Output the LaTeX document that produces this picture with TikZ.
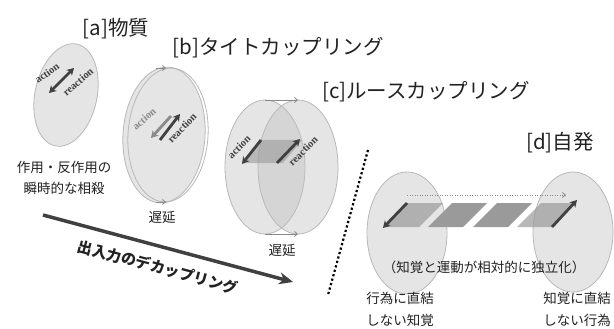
\documentclass[tikz,border=0pt]{standalone}
\usepackage{fontspec}
\newfontfamily\jp{Noto Sans CJK JP}
\newfontfamily\ser{Liberation Serif}
\usetikzlibrary{arrows.meta}
\definecolor{elldraw}{HTML}{B8B8B8}
\definecolor{darkar}{HTML}{404040}
\definecolor{grayar}{HTML}{8A8A8A}
\definecolor{band}{HTML}{9A9A9A}
\definecolor{txt}{HTML}{222222}
\begin{document}
\begin{tikzpicture}[x=1pt,y=-1pt,
  ell/.style={fill=black!25, fill opacity=0.4, draw=elldraw, line width=0.8pt},
  title/.style={font=\jp\fontsize{20.5}{24}\selectfont, inner sep=0pt, text=txt},
  body/.style={font=\jp\fontsize{13.5}{16}\selectfont, inner sep=0pt, text=txt},
  arlbl/.style={font=\ser\bfseries\fontsize{10.5}{12}\selectfont, inner sep=0pt, text=darkar},
  bigar/.style={line width=2.8pt, -{Stealth[length=7pt,width=8pt]}},
  smallhead/.style={draw=grayar, line width=0.8pt, -{Straight Barb[length=3pt,width=5pt]}},
  piece/.style={fill=band, fill opacity=0.9, draw=none}]
\useasboundingbox (0,0) rectangle (614,329);
\fill[white] (0,0) rectangle (614,329);

% ---------- titles ----------
\node[title] (la) at (116,29) {[a]物質};
\node[title] (lb) at (278,48) {[b]タイトカップリング};
\node[title] (lc) at (426,92) {[c]ルースカップリング};
\node[title] (ld) at (560,143) {[d]自発};

% ---------- [a] ----------
\draw[ell, rotate around={-12:(66,95)}] (66,95) ellipse [x radius=31, y radius=52];
\coordinate (a1) at (49,93);
\coordinate (a2) at (74,68);
\draw[darkar, line width=2.8pt, {Stealth[length=7pt,width=8pt]}-{Stealth[length=7pt,width=8pt]}] (a1) -- (a2);
\node[arlbl, rotate=36] (aact) at (47,73) {action};
\node[arlbl, rotate=41] (area) at (78,82) {reaction};
\node[body] (at1) at (64,167) {作用・反作用の};
\node[body] (at2) at (64,188) {瞬時的な相殺};

% ---------- [b] ----------
\draw[ell, rotate around={-4:(164,135)}] (164,135) ellipse [x radius=41, y radius=68];
\draw[draw=elldraw, line width=0.8pt, rotate around={-4:(168,135)}] (168,135) ellipse [x radius=40, y radius=67];
\coordinate (bt1) at (156,68);
\coordinate (bt2) at (166,68);
\coordinate (bb1) at (156,202);
\coordinate (bb2) at (166,202);
\draw[smallhead] (bt1) -- (bt2);
\draw[smallhead] (bb1) -- (bb2);
\coordinate (bg1) at (171,116);
\coordinate (bg2) at (151,138);
\coordinate (bd1) at (160,140);
\coordinate (bd2) at (180,114);
\draw[grayar, bigar] (bg1) -- (bg2);
\draw[darkar, bigar] (bd1) -- (bd2);
\node[arlbl, rotate=42, text=grayar] (bact) at (144,119) {action};
\node[arlbl, rotate=46] (brea) at (182,128) {reaction};
\node[body] (bdl) at (162,217) {遅延};

% ---------- [c] ----------
\draw[ell] (265,167) ellipse [x radius=40, y radius=67];
\draw[ell] (298,167) ellipse [x radius=40, y radius=67];
\coordinate (ct1) at (265,100);
\coordinate (ct2) at (298,100);
\coordinate (cb1) at (265,234);
\coordinate (cb2) at (298,234);
\draw[smallhead] (ct1) -- (ct2);
\draw[smallhead] (cb1) -- (cb2);
\fill[band, fill opacity=0.6] (260,140) -- (302,140) -- (283,163) -- (242,163) -- cycle;
\coordinate (ca1) at (261,140);
\coordinate (ca2) at (242,164);
\coordinate (cr1) at (277,163);
\coordinate (cr2) at (300,139);
\draw[darkar, bigar] (ca1) -- (ca2);
\draw[darkar, bigar] (cr1) -- (cr2);
\node[arlbl, rotate=45] (cact) at (239,147) {action};
\node[arlbl, rotate=45] (crea) at (303,151) {reaction};
\node[body] (cdl) at (282,250) {遅延};

% ---------- separator ----------
\coordinate (s1) at (368,150);
\coordinate (s2) at (328,295);
\draw[black, line width=2.2pt, dash pattern=on 2.2pt off 2.4pt] (s1) -- (s2);

% ---------- decoupling arrow ----------
\coordinate (d1) at (43,215);
\coordinate (d2) at (293,282);
\draw[darkar, line width=3.5pt, -{Stealth[length=14pt,width=12pt]}] (d1) -- (d2);
\node[font=\jp\bfseries\fontsize{15}{17}\selectfont, text=txt, rotate=-15, inner sep=0pt] (dec) at (158,267) {出入力のデカップリング};

% ---------- [d] ----------
\draw[ell] (407,233) ellipse [x radius=40, y radius=61];
\draw[ell] (573,232) ellipse [x radius=40, y radius=60];
\fill[band, fill opacity=0.7] (407,203) -- (443,203) -- (419,227) -- (383,227) -- cycle;
\fill[band] (452,203) -- (487,203) -- (463,227) -- (428,227) -- cycle;
\fill[band] (497,203) -- (532,203) -- (508,227) -- (473,227) -- cycle;
\fill[band, fill opacity=0.7] (541,203) -- (576,203) -- (552,227) -- (517,227) -- cycle;
\coordinate (dd1) at (407,195);
\coordinate (dd2) at (566,195);
\draw[grayar, line width=0.8pt, dash pattern=on 1pt off 1.5pt, -{Straight Barb[length=3pt,width=5pt]}] (dd1) -- (dd2);
\coordinate (dl1) at (407,203);
\coordinate (dl2) at (383,228);
\coordinate (dr1) at (552,227);
\coordinate (dr2) at (577,200);
\draw[darkar, bigar] (dl1) -- (dl2);
\draw[darkar, bigar] (dr1) -- (dr2);
\node[body] (dmid) at (484,267) {（知覚と運動が相対的に独立化）};
\node[body] (dl1t) at (400,298) {行為に直結};
\node[body] (dl2t) at (400,320) {しない知覚};
\node[body] (dr1t) at (577,298) {知覚に直結};
\node[body] (dr2t) at (577,320) {しない行為};
\end{tikzpicture}
\end{document}
